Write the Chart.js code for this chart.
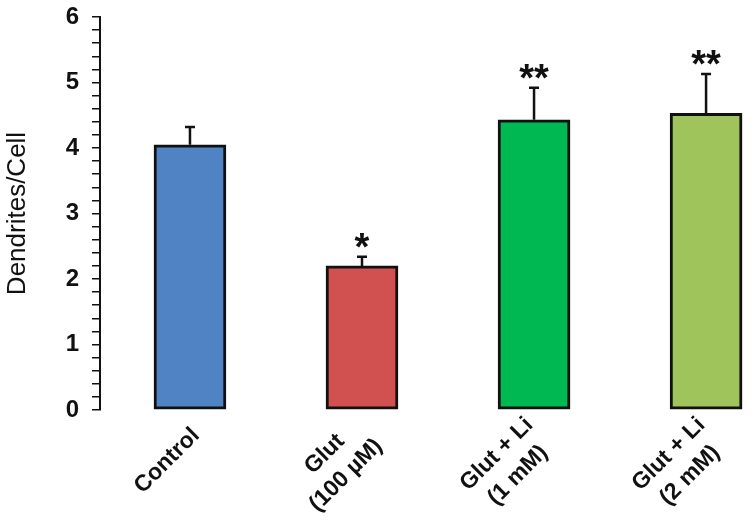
<!DOCTYPE html>
<html>
<head>
<meta charset="utf-8">
<script src="https://cdn.jsdelivr.net/npm/chart.js@4.4.1/dist/chart.umd.min.js"></script>
<style>
  html, body { margin: 0; padding: 0; background: #fff; }
  #wrap { position: relative; width: 756px; height: 526px; }
</style>
</head>
<body>
<div id="wrap"><canvas id="chart"></canvas></div>
<script>
const groups = [['Control'], ['Glut', '(100 µM)'], ['Glut + Li', '(1 mM)'], ['Glut + Li', '(2 mM)']];
const means = [4.05, 2.2, 4.43, 4.53];
const sem = [0.27, 0.14, 0.49, 0.6];
const marks = ['', '*', '**', '**'];
const colors = ['#4F83C4', '#D0514F', '#00B852', '#9FC45C'];
const yTicks = [0, 1, 2, 3, 4, 5, 6];

const FONT = '"Liberation Sans", Arial, sans-serif';

// error bars (upper only) + significance stars
const errorBars = {
  id: 'errorBars',
  afterDatasetsDraw(chart) {
    const { ctx, scales: { x, y } } = chart;
    ctx.save();
    ctx.strokeStyle = '#111';
    ctx.lineWidth = 2.5;
    ctx.fillStyle = '#111';
    ctx.font = 'bold 38px ' + FONT;
    ctx.textAlign = 'center';
    ctx.textBaseline = 'alphabetic';
    means.forEach((m, i) => {
      const cx = x.getPixelForValue(i);
      const y0 = y.getPixelForValue(m);
      const y1 = y.getPixelForValue(m + sem[i]);
      ctx.beginPath();
      ctx.moveTo(cx, y0);
      ctx.lineTo(cx, y1);
      ctx.moveTo(cx - 5, y1);
      ctx.lineTo(cx + 5, y1);
      ctx.stroke();
      if (marks[i]) ctx.fillText(marks[i], cx, y1 + 3);
    });
    ctx.restore();
  }
};

// rotated category labels, lines centred on each other (excel style)
const groupLabels = {
  id: 'groupLabels',
  afterDraw(chart) {
    const { ctx, scales: { x, y } } = chart;
    const lh = 30;
    ctx.save();
    ctx.fillStyle = '#111';
    ctx.font = 'bold 23px ' + FONT;
    ctx.textAlign = 'center';
    ctx.textBaseline = 'middle';
    groups.forEach((lines, i) => {
      const w = Math.max(...lines.map((t) => ctx.measureText(t).width));
      ctx.save();
      ctx.translate(x.getPixelForValue(i) + 6, y.bottom + 22);
      ctx.rotate(-Math.PI / 4);
      lines.forEach((t, j) => ctx.fillText(t, -w / 2, (j - (lines.length - 1) / 2) * lh));
      ctx.restore();
    });
    ctx.restore();
  }
};

new Chart(document.getElementById('chart'), {
  type: 'bar',
  data: {
    datasets: [{
      data: means.map((v, i) => ({ x: i, y: v })),
      backgroundColor: colors,
      borderColor: '#111',
      borderWidth: 3,
      borderSkipped: false,
      barThickness: 72,
    }],
  },
  options: {
    responsive: true,
    maintainAspectRatio: false,
    animation: false,
    layout: { padding: { top: 17, right: 4, left: 0, bottom: 0 } },
    plugins: { legend: { display: false }, tooltip: { enabled: false } },
    scales: {
      x: {
        type: 'linear',
        offset: false,
        min: -0.523,
        max: 3.267,
        afterFit: (axis) => { axis.height = 116; axis.paddingLeft = 0; axis.paddingRight = 0; },
        grid: { display: false },
        border: { display: false },
        ticks: { display: false },
      },
      y: {
        min: 0,
        max: 6,
        afterFit: (axis) => { axis.width = 100; axis.paddingTop = 0; axis.paddingBottom = 0; },
        ticks: {
          stepSize: 0.2,
          autoSkip: false,
          padding: 13,
          color: '#111',
          font: { family: FONT, size: 24, weight: 'bold' },
          callback: (v) => yTicks.includes(Math.round(v * 1000) / 1000) ? Math.round(v) : '',
        },
        grid: { drawOnChartArea: false, drawTicks: true, tickLength: 8, color: '#111', lineWidth: 1.5 },
        border: { display: true, color: '#111', width: 2 },
        title: {
          display: true,
          text: 'Dendrites/Cell',
          color: '#111',
          padding: { top: 2, bottom: 0 },
          font: { family: FONT, size: 26 },
        },
      },
    },
  },
  plugins: [errorBars, groupLabels],
});
</script>
</body>
</html>
